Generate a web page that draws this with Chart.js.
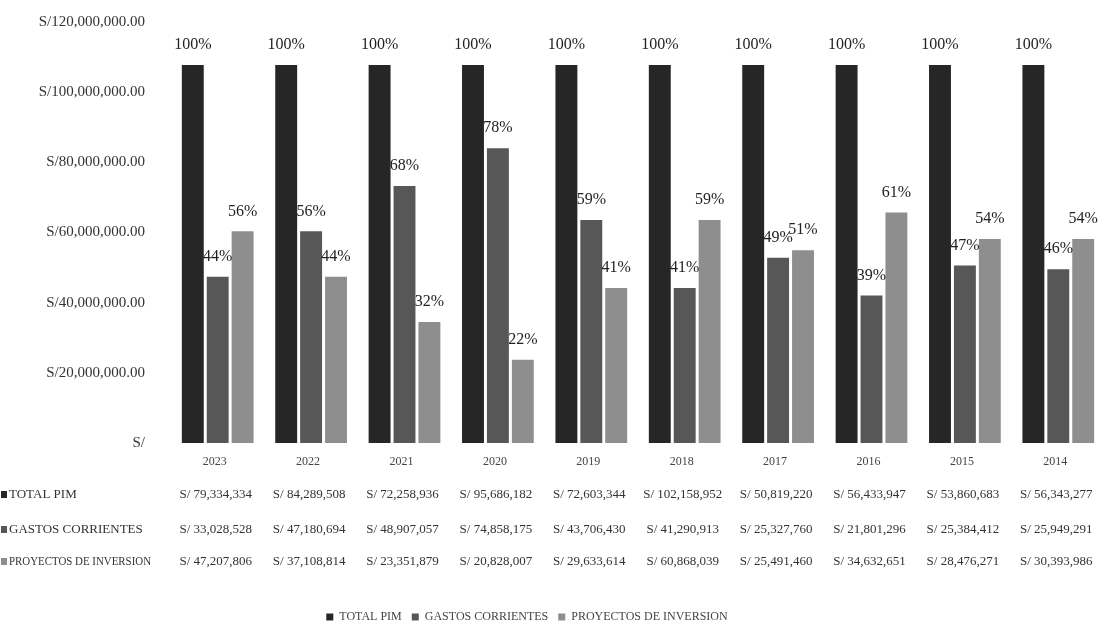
<!DOCTYPE html>
<html lang="es">
<head>
<meta charset="UTF-8">
<title>PIM - Gastos corrientes y proyectos de inversión</title>
<script src="https://cdn.jsdelivr.net/npm/chart.js"></script>
<style>
    body { margin: 0; background: #fff; }
    .caja { width: 1114px; height: 643px; position: relative; }
</style>
</head>
<body>
<div class="caja">
    <canvas id="grafico"></canvas>
</div>
<script>
    // Datos
    const anios = ['2023', '2022', '2021', '2020', '2019', '2018', '2017', '2016', '2015', '2014'];
    const totalPct = [100, 100, 100, 100, 100, 100, 100, 100, 100, 100];
    const gastosPct = [44, 56, 68, 78, 59, 41, 49, 39, 47, 46];
    const proyectosPct = [56, 44, 32, 22, 41, 59, 51, 61, 54, 54];

    // Tabla de datos (montos en soles)
    const totalPim = ['S/ 79,334,334', 'S/ 84,289,508', 'S/ 72,258,936', 'S/ 95,686,182', 'S/ 72,603,344',
        'S/ 102,158,952', 'S/ 50,819,220', 'S/ 56,433,947', 'S/ 53,860,683', 'S/ 56,343,277'];
    const gastosCorr = ['S/ 33,028,528', 'S/ 47,180,694', 'S/ 48,907,057', 'S/ 74,858,175', 'S/ 43,706,430',
        'S/ 41,290,913', 'S/ 25,327,760', 'S/ 21,801,296', 'S/ 25,384,412', 'S/ 25,949,291'];
    const proyInversion = ['S/ 47,207,806', 'S/ 37,108,814', 'S/ 23,351,879', 'S/ 20,828,007', 'S/ 29,633,614',
        'S/ 60,868,039', 'S/ 25,491,460', 'S/ 34,632,651', 'S/ 28,476,271', 'S/ 30,393,986'];

    const colores = ['#262626', '#575757', '#8e8e8e'];
    const serif = "'Liberation Serif', 'DejaVu Serif', serif";

    // etiquetas de porcentaje encima de cada barra
    const etiquetas = {
        id: 'etiquetas',
        afterDatasetsDraw(chart) {
            const ctx = chart.ctx;
            ctx.save();
            ctx.font = '16px ' + serif;
            ctx.fillStyle = '#222';
            ctx.textAlign = 'center';
            ctx.textBaseline = 'middle';
            chart.data.datasets.forEach((ds, i) => {
                chart.getDatasetMeta(i).data.forEach((barra, j) => {
                    ctx.fillText(ds.data[j] + '%', barra.x, barra.y - 20);
                });
            });
            ctx.restore();
        }
    };

    // tabla de datos debajo del eje
    const tabla = {
        id: 'tabla',
        afterDraw(chart) {
            const ctx = chart.ctx;
            const x = chart.scales.x;
            const filas = [
                { nombre: 'TOTAL PIM', valores: totalPim, y: 495 },
                { nombre: 'GASTOS CORRIENTES', valores: gastosCorr, y: 530 },
                { nombre: 'PROYECTOS DE INVERSION', valores: proyInversion, y: 562 }
            ];
            ctx.save();
            ctx.textBaseline = 'middle';
            ctx.textAlign = 'center';
            ctx.font = '12px ' + serif;
            ctx.fillStyle = '#444';
            anios.forEach((a, i) => ctx.fillText(a, x.getPixelForValue(i) - 3, 462));

            filas.forEach((f, k) => {
                ctx.fillStyle = colores[k];
                ctx.fillRect(1, f.y - 4, 6, 7);
                ctx.textAlign = 'left';
                ctx.font = '13px ' + serif;
                ctx.fillStyle = '#333';
                ctx.fillText(f.nombre, 9, f.y, 142);
                ctx.textAlign = 'center';
                f.valores.forEach((v, i) => ctx.fillText(v, x.getPixelForValue(i) - 2, f.y));
            });
            ctx.restore();
        }
    };

    // mover la leyenda un poco a la izquierda
    const leyenda = {
        id: 'leyenda',
        afterLayout(chart) {
            chart.legend.left = -30;
            chart.legend.right = 1114 - 30;
        }
    };

    new Chart(document.getElementById('grafico'), {
        type: 'bar',
        data: {
            labels: anios,
            datasets: [
                { label: 'TOTAL PIM', data: totalPct, backgroundColor: colores[0], yAxisID: 'pct' },
                { label: 'GASTOS CORRIENTES', data: gastosPct, backgroundColor: colores[1], yAxisID: 'pct' },
                { label: 'PROYECTOS DE INVERSION', data: proyectosPct, backgroundColor: colores[2], yAxisID: 'pct' }
            ]
        },
        options: {
            responsive: true,
            maintainAspectRatio: false,
            animation: false,
            categoryPercentage: 0.8,
            barPercentage: 0.88,
            layout: { padding: { top: 22, right: 9, bottom: 10, left: 0 } },
            plugins: {
                tooltip: { enabled: false },
                legend: {
                    position: 'bottom',
                    labels: {
                        boxWidth: 7,
                        boxHeight: 7,
                        padding: 10,
                        color: '#444',
                        font: { family: serif, size: 12 }
                    }
                }
            },
            scales: {
                x: {
                    ticks: { display: false },
                    grid: { display: false },
                    border: { display: false },
                    afterFit: (s) => { s.height = 158; }
                },
                y: {
                    position: 'left',
                    min: 0,
                    max: 120000000,
                    ticks: {
                        stepSize: 20000000,
                        padding: 4,
                        color: '#333',
                        font: { family: serif, size: 15 },
                        callback: (v) => v === 0 ? 'S/' : 'S/' + v.toLocaleString('en-US', { minimumFractionDigits: 2 })
                    },
                    // líneas invisibles, solo para dejar espacio entre etiquetas y barras
                    grid: { display: true, color: 'rgba(0,0,0,0)', drawTicks: true, tickLength: 22 },
                    border: { display: false },
                    afterFit: (s) => { s.width = 171; }
                },
                pct: {
                    display: false,
                    min: 0,
                    max: 111.4
                }
            }
        },
        plugins: [etiquetas, tabla, leyenda]
    });
</script>
</body>
</html>
